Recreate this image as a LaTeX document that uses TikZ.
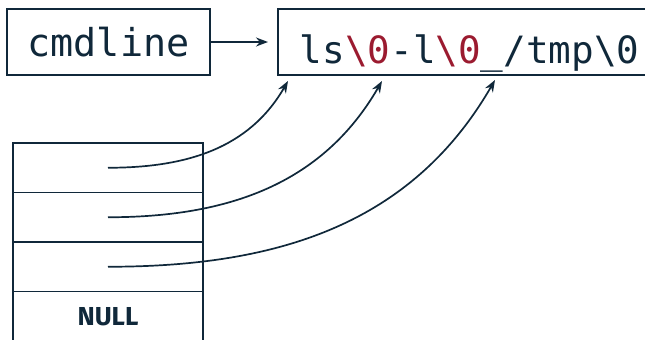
\documentclass[tikz,border=0pt]{standalone}
\usepackage{fontspec}
\setmonofont{DejaVu Sans Mono}
\setsansfont{Fira Sans}
\usetikzlibrary{arrows.meta}
\definecolor{ink}{HTML}{10283A}
\definecolor{nulred}{HTML}{9B1B30}
\newcommand{\nulchar}{\textcolor{nulred}{\textbackslash{}0}}

\begin{document}
\begin{tikzpicture}[x=0.5pt, y=0.5pt, line width=0.85pt, draw=ink, text=ink,
		>={Stealth[length=6pt, width=4.5pt]},
		box/.style={draw, minimum height=33pt, text depth=0pt, font=\ttfamily\fontsize{19.2}{22}\selectfont},
		cell/.style={draw, minimum width=95pt, minimum height=24.75pt, inner sep=0pt},
		ptr/.style={->, ink, out=0, in=240}]
		\useasboundingbox (0, 0) rectangle (645, 339);
		\clip (0, 0) rectangle (645, 339);
		\node[box, minimum width=101.5pt, text height=14pt] (cmdline) at (108.5, 297) {cmdline};
		\node[box, anchor=west, text height=21pt, text width=182pt, inner xsep=11pt, align=left,
			font=\ttfamily\fontsize{18.8}{22}\selectfont] (args)
			at (277, 297) {ls\nulchar-l\nulchar\_/tmp\textbackslash{}0};
		\draw[->, ink, shorten >=4.5pt] (cmdline.east) -- (args.west);
		% argv cells
		\node[cell] (c1) at (108, 171.25) {};
		\node[cell] (c2) at (108, 121.75) {};
		\node[cell] (c3) at (108, 72.25) {};
		\node[cell, font=\sffamily\bfseries\fontsize{13}{15}\selectfont] (c4) at (108, 22.75) {NULL};
		\coordinate (t1) at (288, 258);
		\coordinate (t2) at (382, 258);
		\coordinate (t3) at (495, 259);
		\draw[ptr] (c1.center) to (t1);
		\draw[ptr] (c2.center) to (t2);
		\draw[ptr] (c3.center) to (t3);
	\end{tikzpicture}
\end{document}
